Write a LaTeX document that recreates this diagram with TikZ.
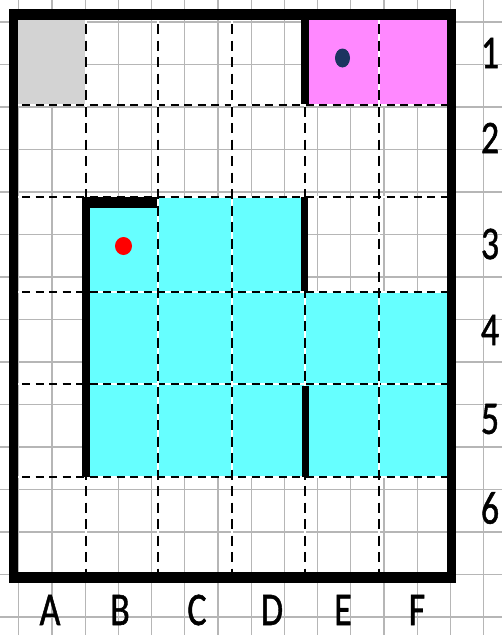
\documentclass[tikz,border=0pt]{standalone}
\usepackage{fontspec}
\setmainfont{Carlito}
\newfontfamily\labfont[FakeBold=1.2]{Carlito}
\definecolor{cyanfill}{RGB}{102,255,255}
\definecolor{pinkfill}{RGB}{255,136,255}
\definecolor{cellgray}{RGB}{211,211,211}
\definecolor{gridgray}{RGB}{182,182,182}
\definecolor{dotnavy}{RGB}{28,52,96}
\tikzset{
  bggrid/.style={draw=gridgray, line width=1.3pt},
  hdash/.style={draw=black, line width=1.8pt, dash pattern=on 8pt off 5.5pt},
  vdash/.style={draw=black, line width=1.8pt, dash pattern=on 10pt off 6.5pt},
  under/.style={draw=white, line width=1.6pt},
  wall/.style={fill=black, draw=none},
  lab/.style={inner sep=0pt, font=\labfont\fontsize{36}{36}\selectfont},
}
\newcommand{\stretchtxt}[1]{\scalebox{1}[1.3]{#1}}
\begin{document}
\begin{tikzpicture}[x=1pt,y=-1pt]
\useasboundingbox (0,0) rectangle (502,635);
\fill[white] (0,0) rectangle (502,635);
% background grid
\foreach \k in {-1,...,14} {
  \draw[bggrid] ({18.8+33.2*\k},0) -- ({18.8+33.2*\k},635);
  \draw[bggrid] (0,{22+42.5*\k}) -- (502,{22+42.5*\k});
}
% coloured cells
\fill[cellgray] (18,20) rectangle (86,105);
\fill[pinkfill] (305,20) rectangle (447,105);
\fill[cyanfill] (86,197) rectangle (305,292);
\fill[cyanfill] (86,292) rectangle (447,477);
% dashed cell lines
\foreach \y in {105,197,292,384,477} {
  \draw[under] (18,\y) -- (447,\y);
  \draw[hdash] (22,\y) -- (447,\y);
}
\foreach \x in {86,158,232,305,379} {
  \draw[under] (\x,20) -- (\x,572);
  \draw[vdash] (\x,24) -- (\x,572);
}
% inner walls
\fill[wall] (82,197) rectangle (157,208);
\fill[wall] (82,197) rectangle (90,477);
\fill[wall] (301,197) rectangle (308,291);
\fill[wall] (302,386) rectangle (309,477);
\fill[wall] (301,9) rectangle (309,104);
% outer walls
\fill[wall] (9,9) rectangle (456,20);
\fill[wall] (9,572) rectangle (456,583);
\fill[wall] (9,9) rectangle (18,583);
\fill[wall] (447,9) rectangle (456,583);
% dots
\fill[dotnavy] (342.5,58) ellipse [x radius=7.5, y radius=9.5];
\fill[red] (123.5,246) ellipse [x radius=8.5, y radius=9];
% row labels
\node[lab] (r1) at (490,53) {\stretchtxt{1}};
\node[lab] (r2) at (490,138) {\stretchtxt{2}};
\node[lab] (r3) at (490,244) {\stretchtxt{3}};
\node[lab] (r4) at (490,330) {\stretchtxt{4}};
\node[lab] (r5) at (490,419) {\stretchtxt{5}};
\node[lab] (r6) at (490,508) {\stretchtxt{6}};
% column labels
\node[lab] (cA) at (50,610) {\stretchtxt{A}};
\node[lab] (cB) at (120,610) {\stretchtxt{B}};
\node[lab] (cC) at (197,610) {\stretchtxt{C}};
\node[lab] (cD) at (272,610) {\stretchtxt{D}};
\node[lab] (cE) at (343,610) {\stretchtxt{E}};
\node[lab] (cF) at (417,610) {\stretchtxt{F}};
\end{tikzpicture}
\end{document}
